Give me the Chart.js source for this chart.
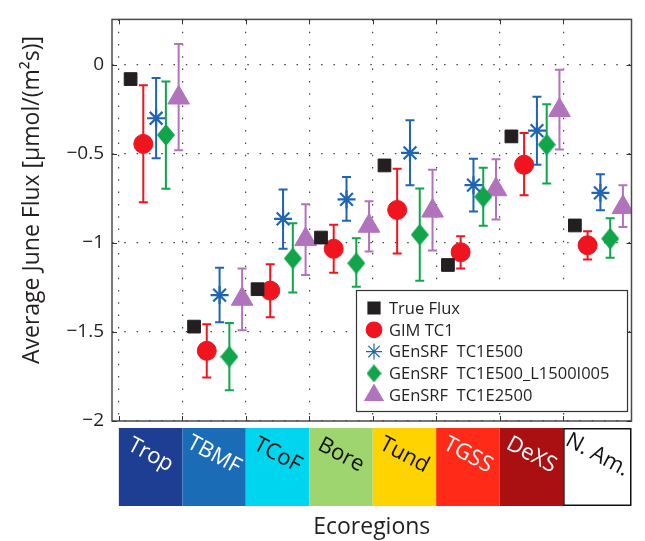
<!DOCTYPE html>
<html><head><meta charset="utf-8">
<script src="https://cdn.jsdelivr.net/npm/chart.js@4.4.0/dist/chart.umd.min.js"></script>
<style>html,body{margin:0;padding:0;background:#fff;}#wrap{position:relative;width:645px;height:541px;}</style>
</head><body><div id="wrap"><canvas id="c" width="645" height="541"></canvas></div>
<script>
// ---- data ----
const categories = ['Trop','TBMF','TCoF','Bore','Tund','TGSS','DeXS','N. Am.'];
const yTicks = [-2, -1.5, -1, -0.5, 0];
const seriesNames = ['True Flux','GIM TC1','GEnSRF  TC1E500','GEnSRF  TC1E500_L1500I005','GEnSRF  TC1E2500'];

const trueFlux = [-0.08, -1.47, -1.26, -0.97, -0.565, -1.124, -0.402, -0.902];

const gimMean = [-0.444, -1.606, -1.268, -1.033, -0.815, -1.052, -0.561, -1.013];
const gimLow  = [-0.772, -1.756, -1.418, -1.167, -1.059, -1.144, -0.733, -1.093];
const gimHigh = [-0.115, -1.457, -1.120, -0.898, -0.583, -0.963, -0.383, -0.935];

const e500Mean = [-0.300, -1.293, -0.865, -0.756, -0.494, -0.676, -0.370, -0.719];
const e500Low  = [-0.524, -1.446, -1.033, -0.876, -0.676, -0.824, -0.561, -0.817];
const e500High = [-0.074, -1.139, -0.700, -0.630, -0.311, -0.528, -0.180, -0.615];

const locMean = [-0.394, -1.639, -1.087, -1.114, -0.954, -0.741, -0.448, -0.976];
const locLow  = [-0.696, -1.828, -1.278, -1.246, -1.213, -0.904, -0.667, -1.083];
const locHigh = [-0.093, -1.450, -0.889, -0.974, -0.694, -0.578, -0.222, -0.861];

const e2500Mean = [-0.185, -1.315, -0.980, -0.905, -0.820, -0.700, -0.255, -0.800];
const e2500Low  = [-0.480, -1.490, -1.180, -1.048, -1.043, -0.868, -0.476, -0.911];
const e2500High = [ 0.117, -1.144, -0.783, -0.766, -0.589, -0.530, -0.028, -0.676];

// ---- styling ----
const groupOffsets = [0.185, 0.385, 0.587, 0.741, 0.942];
const seriesColors = ['#231f20', '#f0141e', '#1f65b2', '#10a54a', '#b273bd'];
const regionColors = ['#1e3e94','#1b6cb6','#00d5ef','#9fd56e','#ffd300','#ff2a18','#aa0f12','#ffffff'];
const regionText = ['#ffffff','#ffffff','#111111','#111111','#111111','#ffffff','#ffffff','#111111'];
const FONT = "'Open Sans', 'Noto Sans', sans-serif";
const TXT = '#231f20';

function makeDiamond(w, h, color) {
  const c = document.createElement('canvas'); c.width = w; c.height = h;
  const g = c.getContext('2d'); g.fillStyle = color; g.beginPath();
  g.moveTo(w/2, 0); g.lineTo(w, h/2); g.lineTo(w/2, h); g.lineTo(0, h/2); g.closePath(); g.fill();
  return c;
}
const diamondBig = makeDiamond(18, 22, seriesColors[3]);
const diamondSmall = makeDiamond(15, 18, seriesColors[3]);

const means = [trueFlux, gimMean, e500Mean, locMean, e2500Mean];
const lows = [null, gimLow, e500Low, locLow, e2500Low];
const highs = [null, gimHigh, e500High, locHigh, e2500High];
const styles = [
  {pointStyle:'rect', radius:9, borderWidth:1},
  {pointStyle:'circle', radius:9.5, borderWidth:1},
  {pointStyle:'star', radius:9, borderWidth:2.2},
  {pointStyle:diamondBig, radius:10, borderWidth:0},
  {pointStyle:'triangle', radius:12.5, borderWidth:1}
];
const legendStyles = [
  {pointStyle:'rect', radius:8.5, borderWidth:1},
  {pointStyle:'circle', radius:7.8, borderWidth:1},
  {pointStyle:'star', radius:8, borderWidth:2},
  {pointStyle:diamondSmall, radius:8, borderWidth:0},
  {pointStyle:'triangle', radius:10.5, borderWidth:1}
];

const datasets = means.map((arr, s) => ({
  label: seriesNames[s],
  data: categories.map((c, i) => ({x: i + groupOffsets[s], y: arr[i]})),
  backgroundColor: seriesColors[s],
  borderColor: seriesColors[s],
  pointStyle: styles[s].pointStyle,
  pointRadius: styles[s].radius,
  pointBorderWidth: styles[s].borderWidth,
  showLine: false
}));

const decor = {
  id: 'decor',
  beforeDatasetsDraw(chart) {
    const {ctx} = chart; const xs = chart.scales.x, ys = chart.scales.y;
    ctx.save(); ctx.lineWidth = 2;
    for (let s = 1; s < 5; s++) {
      ctx.strokeStyle = seriesColors[s];
      for (let i = 0; i < categories.length; i++) {
        const x = xs.getPixelForValue(i + groupOffsets[s]);
        const y1 = ys.getPixelForValue(lows[s][i]), y2 = ys.getPixelForValue(highs[s][i]);
        ctx.beginPath();
        ctx.moveTo(x, y1); ctx.lineTo(x, y2);
        ctx.moveTo(x - 4.5, y1); ctx.lineTo(x + 4.5, y1);
        ctx.moveTo(x - 4.5, y2); ctx.lineTo(x + 4.5, y2);
        ctx.stroke();
      }
    }
    ctx.restore();
  },
  afterDraw(chart) {
    const {ctx, chartArea: a} = chart; const xs = chart.scales.x, ys = chart.scales.y;
    ctx.save();
    // box
    ctx.strokeStyle = '#4a4a4a'; ctx.lineWidth = 1.5;
    ctx.strokeRect(a.left, a.top, a.right - a.left, a.bottom - a.top);
    // inward ticks
    ctx.lineWidth = 1; ctx.strokeStyle = '#333';
    ctx.beginPath();
    for (let i = 0; i < categories.length; i++) {
      const x = Math.round(xs.getPixelForValue(i)) + 0.5;
      ctx.moveTo(x, a.bottom); ctx.lineTo(x, a.bottom - 5);
      ctx.moveTo(x, a.top); ctx.lineTo(x, a.top + 5);
    }
    yTicks.forEach(v => {
      const y = Math.round(ys.getPixelForValue(v)) + 0.5;
      ctx.moveTo(a.left, y); ctx.lineTo(a.left + 5, y);
      ctx.moveTo(a.right, y); ctx.lineTo(a.right - 5, y);
    });
    ctx.stroke();
    // region boxes
    const top = a.bottom + 7, bot = a.bottom + 85;
    for (let i = 0; i < categories.length; i++) {
      const x0 = xs.getPixelForValue(i);
      const x1 = i < categories.length - 1 ? xs.getPixelForValue(i + 1) : a.right;
      ctx.fillStyle = regionColors[i];
      ctx.fillRect(x0, top, x1 - x0, bot - top);
      if (i === categories.length - 1) {
        ctx.strokeStyle = '#111'; ctx.lineWidth = 1.5;
        ctx.strokeRect(x0 + 0.75, top + 0.75, x1 - x0 - 1.5, bot - top - 1.5);
      }
      ctx.save();
      ctx.translate((x0 + x1) / 2, a.bottom + 34);
      ctx.rotate(28 * Math.PI / 180);
      ctx.fillStyle = regionText[i];
      ctx.font = '22px ' + FONT;
      ctx.textAlign = 'center'; ctx.textBaseline = 'middle';
      ctx.fillText(categories[i], 0, 0);
      ctx.restore();
    }
    // y title
    ctx.save();
    ctx.translate(32, 200); ctx.rotate(-Math.PI / 2);
    ctx.fillStyle = TXT; ctx.font = '23px ' + FONT;
    ctx.textAlign = 'center'; ctx.textBaseline = 'middle';
    ctx.fillText('Average June Flux [\u03bcmol/(m\u00b2s)]', 0, 0);
    ctx.restore();
    // legend
    const lx = 356, ly = 290, lw = 271, lh = 121;
    ctx.fillStyle = '#fff'; ctx.fillRect(lx, ly, lw, lh);
    ctx.strokeStyle = '#333'; ctx.lineWidth = 1.2; ctx.strokeRect(lx + 0.5, ly + 0.5, lw, lh);
    ctx.font = '16.5px ' + FONT; ctx.textAlign = 'left'; ctx.textBaseline = 'middle';
    for (let s = 0; s < 5; s++) {
      const y = ly + 18 + s * 21.8;
      ctx.fillStyle = seriesColors[s]; ctx.strokeStyle = seriesColors[s];
      Chart.helpers.drawPoint(ctx, {pointStyle: legendStyles[s].pointStyle, radius: legendStyles[s].radius, rotation: 0, borderWidth: legendStyles[s].borderWidth}, 374, y);
      ctx.fillStyle = TXT;
      ctx.fillText(seriesNames[s], 389, y + 1);
    }
    ctx.restore();
  }
};

new Chart(document.getElementById('c'), {
  type: 'scatter',
  data: {datasets},
  plugins: [decor],
  options: {
    responsive: false, animation: false, devicePixelRatio: 1,
    layout: {padding: {top: 14, right: 3, left: 0, bottom: 0}},
    plugins: {legend: {display: false}, tooltip: {enabled: false}},
    scales: {
      x: {
        type: 'linear', min: -0.108, max: 8.077,
        afterBuildTicks: s => { s.ticks = categories.map((c, i) => ({value: i})); },
        afterFit: s => { s.height = 120; },
        ticks: {display: false},
        grid: {color: '#444', lineWidth: 1.2, drawTicks: false},
        border: {display: false, dash: [1.5, 10.8]},
        title: {display: true, text: 'Ecoregions', color: TXT, font: {family: FONT, size: 23}, padding: {top: 0, bottom: 0}}
      },
      y: {
        min: -2, max: 0.255,
        afterBuildTicks: s => { s.ticks = yTicks.map(v => ({value: v})); },
        afterFit: s => { s.width = 112; },
        ticks: {color: TXT, padding: 8, font: {family: FONT, size: 19},
          callback: v => (v < 0 ? '\u2212' + String(-v) : String(v))},
        grid: {color: '#444', lineWidth: 1.2, drawTicks: false},
        border: {display: false, dash: [1.5, 10.8]}
      }
    }
  }
});
</script></body></html>
